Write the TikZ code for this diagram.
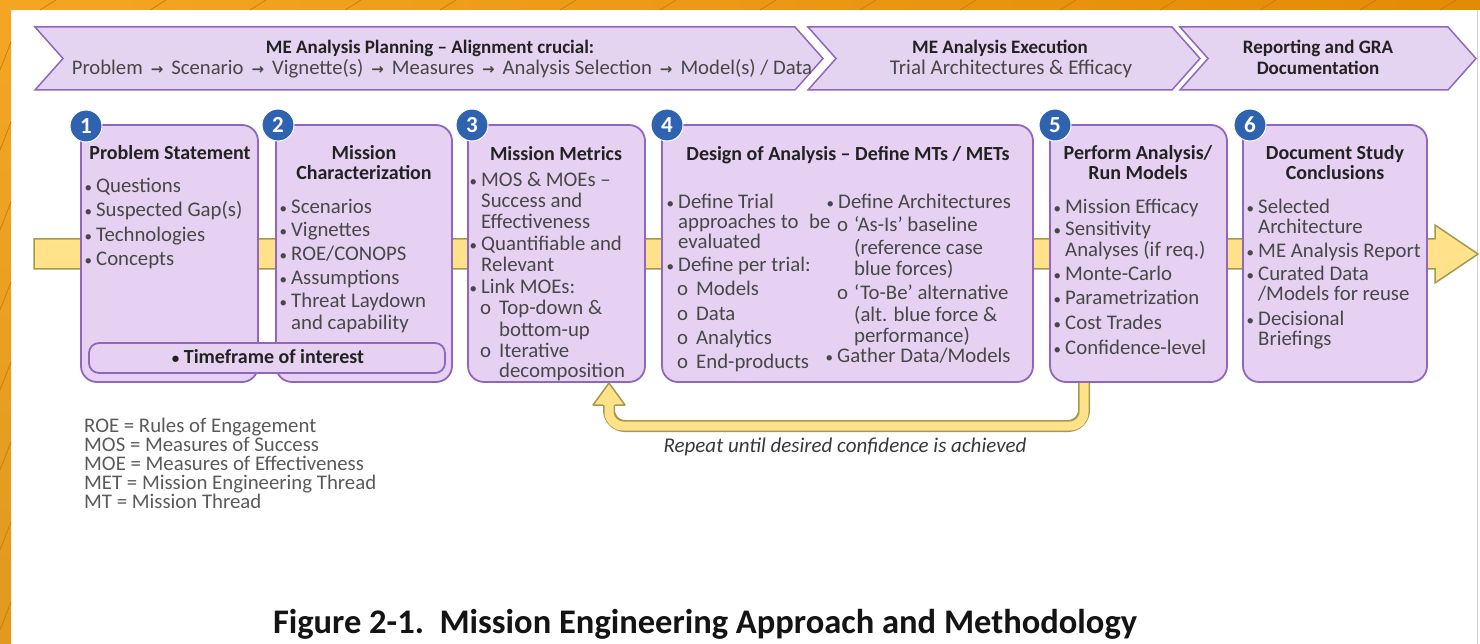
\documentclass[tikz,border=0pt]{standalone}
\usepackage{fontspec}
\setmainfont{Carlito}
\newfontfamily\djfont{DejaVu Sans}
\definecolor{lav}{HTML}{E5D4F1}
\definecolor{boxfill}{HTML}{E6D1F3}
\definecolor{purp}{HTML}{9067BD}
\definecolor{badgeblue}{HTML}{2F63AF}
\definecolor{yel}{HTML}{FFE28A}
\definecolor{olive}{HTML}{A39A4F}
\definecolor{txtgray}{HTML}{474747}
\definecolor{ttlcol}{HTML}{222222}
\definecolor{orL}{HTML}{F4A623}
\definecolor{orR}{HTML}{E38B05}
\definecolor{orS}{HTML}{C97A10}
\newcommand\fs[1]{\fontsize{#1}{#1}\selectfont}
\newcommand\bu{\llap{{\fs{15}•}\hspace{4pt}}}
\newcommand\ob{\llap{o\hspace{8pt}}}
\newcommand\obr{\llap{o\hspace{6pt}}}
\newcommand\ar{\hspace{8pt}{\djfont\bfseries\fs{15}→}\hspace{8pt}}
\newcommand\tl[4]{\node[txt] (#1) at (#2,#3) {#4};}
\begin{document}
\begin{tikzpicture}[x=1pt,y=-1pt,
  chev/.style={fill=lav, draw=purp, line width=1.5pt},
  bx/.style={rounded corners=16pt, fill=boxfill, draw=purp, line width=1.8pt},
  badge/.style={circle, fill=badgeblue, draw=white, line width=1pt, minimum size=32pt, inner sep=0pt, text=white, font=\fs{23}\bfseries},
  ttl/.style={anchor=base, inner sep=0pt, text=ttlcol, font=\fs{20}\bfseries},
  cttl/.style={anchor=base, inner sep=0pt, text=ttlcol, font=\fs{19}\bfseries},
  txt/.style={anchor=base west, inner sep=0pt, text=txtgray, font=\fs{20.8}},
  bar/.style={fill=yel, draw=olive, line width=1.5pt},
  leg/.style={anchor=base west, inner sep=0pt, text=txtgray!90!white, font=\fs{20.8}}]
\useasboundingbox (0,0) rectangle (1480,644);
\fill[white] (0,0) rectangle (1480,644);
% orange frame
\fill[left color=orL, right color=orR] (0,0) rectangle (1480,10);
\fill[top color=orL, bottom color=orL!92!black] (0,0) rectangle (11,644);
\foreach \x in {40,150,250,345,440,560,660,760,860,960,1060,1160,1260,1360,1440}
  \draw[orS, line width=0.7pt] (\x,10) -- (\x+16,0);
\foreach \y in {70,150,230,310,390,470,550,630}
  \draw[orS, line width=0.7pt] (0,\y) -- (11,\y-28);
\draw[gray!35, line width=1pt] (1477,10) -- (1477,644);
% top chevrons
\draw[chev] (35,27) -- (795,27) -- (823,58.5) -- (795,90) -- (35,90) -- (63,58.5) -- cycle;
\draw[chev] (808,27) -- (1172,27) -- (1200,58.5) -- (1172,90) -- (808,90) -- (836,58.5) -- cycle;
\draw[chev] (1180,27) -- (1448,27) -- (1476,58.5) -- (1448,90) -- (1180,90) -- (1208,58.5) -- cycle;
\node[cttl] (c1a) at (430,54) {ME Analysis Planning – Alignment crucial:};
\node[txt, anchor=base, font=\fs{20.7}] (c1b) at (442,75) {Problem\ar Scenario\ar Vignette(s)\ar Measures\ar Analysis Selection\ar Model(s) / Data};
\node[cttl] (c2a) at (1000,54) {ME Analysis Execution};
\node[txt, anchor=base, font=\fs{21}] (c2b) at (1011,75) {Trial Architectures \& Efficacy};
\node[cttl] (c3a) at (1318,54) {Reporting and GRA};
\node[cttl] (c3b) at (1318,75) {Documentation};
% long yellow arrow
\draw[bar] (34,239) -- (1435,239) -- (1435,225) -- (1478,254) -- (1435,283) -- (1435,269) -- (34,269) -- cycle;
% feedback shaft
\draw[olive, line width=12pt, rounded corners=16pt] (1084,372) |- (609,426) -- (609,405);
\draw[yel, line width=9pt, rounded corners=14pt] (1084,372) |- (609,426) -- (609,405);
% boxes
\draw[bx] (81,125) rectangle (258,382);
\draw[bx] (276,125) rectangle (452,382);
\draw[bx] (468,125) rectangle (645,382);
\draw[bx] (662,125) rectangle (1033,382);
\draw[bx] (1050,125) rectangle (1227,382);
\draw[bx] (1243,125) rectangle (1427,382);
\draw[fill=boxfill, draw=purp, line width=1.8pt, rounded corners=10pt] (89,343) rectangle (445,373);
\node[ttl] (tf) at (268,363) {{\fs{15}•} Timeframe of interest};
% feedback head
\filldraw[fill=yel, draw=olive, line width=1.5pt, line join=round] (603,405) -- (593,405) -- (609,383) -- (625,405) -- (615,405);
% badges
\node[badge] (n1) at (86,126) {1};
\node[badge] (n2) at (278,125) {2};
\node[badge] (n3) at (472,125) {3};
\node[badge] (n4) at (667,125) {4};
\node[badge] (n5) at (1055,125) {5};
\node[badge] (n6) at (1250,125) {6};
% box 1
\node[ttl] (t1) at (170,160) {Problem Statement};
\tl{b1a}{96}{193}{\bu Questions}
\tl{b1b}{96}{217}{\bu Suspected Gap(s)}
\tl{b1c}{96}{242}{\bu Technologies}
\tl{b1d}{96}{266}{\bu Concepts}
% box 2
\node[ttl] (t2a) at (364,160) {Mission};
\node[ttl] (t2b) at (364,180) {Characterization};
\tl{b2a}{291}{214}{\bu Scenarios}
\tl{b2b}{291}{237}{\bu Vignettes}
\tl{b2c}{291}{261}{\bu ROE/CONOPS}
\tl{b2d}{291}{285}{\bu Assumptions}
\tl{b2e}{291}{308}{\bu Threat Laydown}
\tl{b2f}{291}{329}{and capability}
% box 3
\node[ttl] (t3) at (556,161) {Mission Metrics};
\tl{b3a}{481}{187}{\bu MOS \& MOEs –}
\tl{b3b}{481}{208}{Success and}
\tl{b3c}{481}{229}{Effectiveness}
\tl{b3d}{481}{251}{\bu Quantifiable and}
\tl{b3e}{481}{272}{Relevant}
\tl{b3f}{481}{294}{\bu Link MOEs:}
\tl{b3g}{499}{315}{\ob Top-down \&}
\tl{b3h}{499}{336}{bottom-up}
\tl{b3i}{499}{357}{\ob Iterative}
\tl{b3j}{499}{377}{decomposition}
% box 4
\node[ttl] (t4) at (848,161) {Design of Analysis – Define MTs / METs};
\tl{b4a}{678}{209}{\bu Define Trial}
\tl{b4b}{678}{229}{approaches to}
\tl{b4b2}{809}{229}{be}
\tl{b4c}{678}{249}{evaluated}
\tl{b4d}{678}{272}{\bu Define per trial:}
\tl{b4e}{696}{295}{\ob Models}
\tl{b4f}{696}{320}{\ob Data}
\tl{b4g}{696}{344}{\ob Analytics}
\tl{b4h}{696}{368}{\ob End-products}
\tl{b4i}{838}{209}{\bu Define Architectures}
\tl{b4j}{854}{232}{\obr ‘As-Is’ baseline}
\tl{b4k}{854}{255}{(reference case}
\tl{b4l}{854}{276}{blue forces)}
\tl{b4m}{854}{299}{\obr ‘To-Be’ alternative}
\tl{b4n}{854}{321}{(alt. blue force \&}
\tl{b4o}{854}{342}{performance)}
\tl{b4p}{837}{362}{\bu Gather Data/Models}
% box 5
\node[ttl] (t5a) at (1138,160) {Perform Analysis/};
\node[ttl] (t5b) at (1138,180) {Run Models};
\tl{b5a}{1065}{214}{\bu Mission Efficacy}
\tl{b5b}{1065}{236}{\bu Sensitivity}
\tl{b5c}{1065}{257}{Analyses (if req.)}
\tl{b5d}{1065}{281}{\bu Monte-Carlo}
\tl{b5e}{1065}{305}{\bu Parametrization}
\tl{b5f}{1065}{329}{\bu Cost Trades}
\tl{b5g}{1065}{354}{\bu Confidence-level}
% box 6
\node[ttl] (t6a) at (1335,160) {Document Study};
\node[ttl] (t6b) at (1335,180) {Conclusions};
\tl{b6a}{1258}{214}{\bu Selected}
\tl{b6b}{1258}{234}{Architecture}
\tl{b6c}{1258}{258}{\bu ME Analysis Report}
\tl{b6d}{1258}{281}{\bu Curated Data}
\tl{b6e}{1258}{301}{/Models for reuse}
\tl{b6f}{1258}{325}{\bu Decisional}
\tl{b6g}{1258}{345}{Briefings}
% feedback label
\node[anchor=base, inner sep=0pt, text=txtgray!80!black, font=\fs{21}\itshape] (rep) at (845,452) {Repeat until desired confidence is achieved};
% legend
\node[leg] (l1) at (84,432) {ROE = Rules of Engagement};
\node[leg] (l2) at (84,451) {MOS = Measures of Success};
\node[leg] (l3) at (84,470) {MOE = Measures of Effectiveness};
\node[leg] (l4) at (84,489) {MET = Mission Engineering Thread};
\node[leg] (l5) at (84,508) {MT = Mission Thread};
% caption
\node[anchor=base, inner sep=0pt, text=black!92, font=\fs{34.5}\bfseries] (cap) at (705,633) {Figure 2-1.\ \ Mission Engineering Approach and Methodology};
\end{tikzpicture}
\end{document}
